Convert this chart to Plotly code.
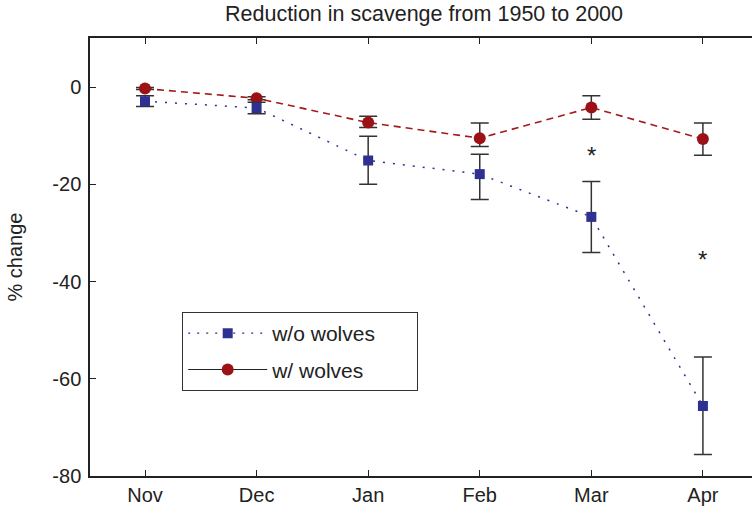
import plotly.graph_objects as go

months = ["Nov", "Dec", "Jan", "Feb", "Mar", "Apr"]
wo_wolves = [-2.9, -4.3, -15.1, -17.9, -26.7, -65.6]
wo_wolves_err_up = [1.1, 1.2, 5.0, 4.1, 7.3, 10.1]
wo_wolves_err_down = [1.1, 1.2, 4.9, 5.2, 7.3, 10.0]
w_wolves = [-0.3, -2.3, -7.3, -10.5, -4.2, -10.7]
w_wolves_err_up = [0.2, 0.3, 1.3, 3.1, 2.4, 3.3]
w_wolves_err_down = [0.2, 0.3, 1.0, 1.7, 2.4, 3.3]
sig_months = ["Mar", "Apr"]
sig_y = [-14.0, -35.5]
y_ticks = [-80, -60, -40, -20, 0]
y_ticklabels = ["-80", "-60", "-40", "-20", "0"]

xi = list(range(len(months)))
BLUE = "#2e3192"
RED = "#9b1115"
ERR = "#333333"
FONT = "Liberation Sans, Arial, sans-serif"
PAD = "\u00a0" * 6

fig = go.Figure()
fig.add_trace(go.Scatter(
    x=xi, y=w_wolves, mode="lines+markers", showlegend=False,
    line=dict(color="#a3191c", width=1.6, dash="7px,5px"),
    marker=dict(symbol="circle", size=12, color=RED),
    error_y=dict(type="data", symmetric=False, array=w_wolves_err_up,
                 arrayminus=w_wolves_err_down, color=ERR, thickness=1.5, width=9),
))
fig.add_trace(go.Scatter(
    x=xi, y=wo_wolves, mode="lines+markers", showlegend=False,
    line=dict(color=BLUE, width=1.5, dash="2px,8px"),
    marker=dict(symbol="square", size=10, color=BLUE),
    error_y=dict(type="data", symmetric=False, array=wo_wolves_err_up,
                 arrayminus=wo_wolves_err_down, color=ERR, thickness=1.5, width=9),
))
# legend entries
fig.add_trace(go.Scatter(
    x=[None], y=[None], mode="lines+markers", name="w/o wolves" + PAD, legendgroup="a",
    line=dict(color=BLUE, width=1.2, dash="2px,7px"),
    marker=dict(symbol="square", size=10, color=BLUE),
))
fig.add_trace(go.Scatter(
    x=[None], y=[None], mode="lines+markers", name="w/ wolves" + PAD, legendgroup="b",
    line=dict(color="#222222", width=1.2),
    marker=dict(symbol="circle", size=12, color=RED),
))

for m, yv in zip(sig_months, sig_y):
    fig.add_annotation(x=months.index(m), y=yv, text="*", showarrow=False,
                       font=dict(size=24, color="#222222", family=FONT))

fig.update_layout(
    width=752, height=508,
    margin=dict(l=90, r=0, t=37.5, b=31.5, autoexpand=False),
    paper_bgcolor="white", plot_bgcolor="white",
    font=dict(family=FONT, color="#222222", size=20),
    title=dict(text="Reduction in scavenge from 1950 to 2000", x=424 / 752,
               xanchor="center", xref="container",
               y=1 - 13.5 / 508, yanchor="middle", yref="container",
               font=dict(size=21.5, color="#222222"), automargin=False),
    showlegend=True,
    legend=dict(x=(182 - 90) / 662, y=(476.5 - 312) / 439, xanchor="left", yanchor="top",
                bordercolor="#333333", borderwidth=1.2, bgcolor="white",
                font=dict(size=21), itemwidth=79, tracegroupgap=6,
                traceorder="grouped"),
)
fig.update_xaxes(
    range=[-0.493, 5.44], tickvals=xi, ticktext=months, automargin=False,
    showline=True, linecolor="#222222", linewidth=1.5, mirror="ticks",
    ticks="inside", ticklen=6, tickcolor="#222222", tickwidth=1.2,
    showgrid=False, zeroline=False, tickfont=dict(size=20),
)
fig.update_yaxes(
    range=[-80, 10.1], tickvals=y_ticks, ticktext=y_ticklabels, automargin=False,
    showline=True, linecolor="#222222", linewidth=1.5, mirror=False,
    ticks="inside", ticklen=6, tickcolor="#222222", tickwidth=1.2,
    ticklabelstandoff=3,
    showgrid=False, zeroline=False, tickfont=dict(size=20),
    title=dict(text="% change", font=dict(size=20), standoff=24),
)
fig.write_html("out.html", config={"displayModeBar": False},
               post_script="document.body.style.margin='0px';")
